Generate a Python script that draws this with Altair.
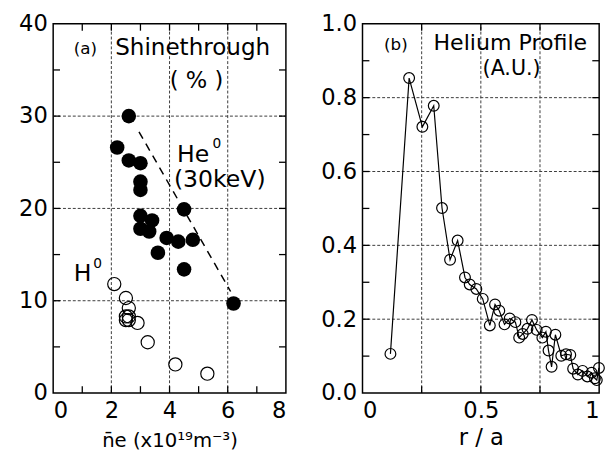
import altair as alt
import pandas as pd

# ---- Panel (a): shinethrough vs density ----
he_ne = [2.6, 2.2, 2.6, 3.0, 3.0, 3.0, 4.5, 3.0, 3.4, 3.0, 3.3, 3.9, 4.3, 4.8, 3.6, 4.5, 6.2]
he_st = [30.0, 26.6, 25.2, 24.9, 22.9, 22.0, 19.9, 19.2, 18.7, 17.8, 17.5, 16.8, 16.4, 16.6, 15.2, 13.4, 9.7]
h_ne = [2.1, 2.5, 2.6, 2.5, 2.6, 2.5, 2.9, 2.6, 3.25, 4.2, 5.3]
h_st = [11.8, 10.3, 9.2, 8.3, 7.9, 7.9, 7.6, 8.3, 5.5, 3.1, 2.1]
fit_ne = [2.95, 6.1]
fit_st = [28.3, 11.0]

# ---- Panel (b): helium profile ----
r_a = [0.118, 0.197, 0.253, 0.301, 0.336, 0.370, 0.402, 0.433, 0.453, 0.481, 0.508,
       0.538, 0.560, 0.578, 0.600, 0.622, 0.646, 0.662, 0.677, 0.697, 0.716, 0.736,
       0.760, 0.775, 0.786, 0.799, 0.815, 0.840, 0.860, 0.878, 0.890, 0.910, 0.930,
       0.950, 0.968, 0.982, 0.990, 0.999]
he_prof = [0.106, 0.853, 0.721, 0.778, 0.501, 0.361, 0.413, 0.313, 0.294, 0.282, 0.255,
           0.183, 0.240, 0.223, 0.186, 0.202, 0.192, 0.150, 0.160, 0.174, 0.198, 0.171,
           0.150, 0.166, 0.115, 0.071, 0.158, 0.101, 0.105, 0.103, 0.066, 0.050, 0.060,
           0.045, 0.055, 0.040, 0.035, 0.068]

# grid and tick positions
grid_x_a = [2, 4, 6]
grid_y_a = [10, 20, 30]
minor_x_a = [1, 2, 3, 4, 5, 6, 7]
minor_y_a = [5, 10, 15, 20, 25, 30, 35]
grid_x_b = [0.25, 0.5, 0.75]
grid_y_b = [0.2, 0.4, 0.6, 0.8]
minor_x_b = [0.25, 0.5, 0.75]
minor_y_b = [0.1, 0.2, 0.3, 0.4, 0.5, 0.6, 0.7, 0.8, 0.9]

FONT = "DejaVu Sans"
W1, W2, H = 237, 241, 376
TL = 7
GRID = dict(color="#3a3a3a", strokeDash=[3, 2], strokeWidth=1)
TICK = dict(color="black", strokeWidth=1.3)


def frame_layers(xs, ys, xdom, ydom, gx, gy, mx, my, w, xaxis, yaxis):
    vx = pd.DataFrame({"g": [v for v in gx for _ in (0, 1)],
                       "p": [ydom[k] for _ in gx for k in (0, 1)]})
    hy = pd.DataFrame({"g": [v for v in gy for _ in (0, 1)],
                       "p": [xdom[k] for _ in gy for k in (0, 1)]})
    mxdf = pd.DataFrame({"v": mx})
    mydf = pd.DataFrame({"v": my})
    return [
        alt.Chart(vx).mark_line(**GRID).encode(
            x=alt.X("g:Q", scale=xs, axis=xaxis), y=alt.Y("p:Q", scale=ys, axis=yaxis), detail="g:N"),
        alt.Chart(hy).mark_line(**GRID).encode(
            y=alt.Y("g:Q", scale=ys), x=alt.X("p:Q", scale=xs), detail="g:N", order="p:Q"),
        alt.Chart(mxdf).mark_rule(**TICK).encode(
            x=alt.X("v:Q", scale=xs), y=alt.value(H), y2=alt.value(H - TL)),
        alt.Chart(mxdf).mark_rule(**TICK).encode(
            x=alt.X("v:Q", scale=xs), y=alt.value(0), y2=alt.value(TL)),
        alt.Chart(mydf).mark_rule(**TICK).encode(
            y=alt.Y("v:Q", scale=ys), x=alt.value(0), x2=alt.value(TL)),
        alt.Chart(mydf).mark_rule(**TICK).encode(
            y=alt.Y("v:Q", scale=ys), x=alt.value(w), x2=alt.value(w - TL)),
    ]


def text_layers(df, xs, ys):
    return [
        alt.Chart(df.iloc[[i]]).mark_text(font=FONT, fontSize=float(df.s[i]), align=df.a[i],
                                          baseline="alphabetic", color="black").encode(
            x=alt.X("x:Q", scale=xs), y=alt.Y("y:Q", scale=ys), text="t:N")
        for i in range(len(df))
    ]


# ---------- Panel (a) ----------
df_he = pd.DataFrame({"ne": he_ne, "st": he_st})
df_h = pd.DataFrame({"ne": h_ne, "st": h_st})
df_fit = pd.DataFrame({"ne": fit_ne, "st": fit_st})

xdom_a, ydom_a = [0, 8], [0, 40]
xs_a = alt.Scale(domain=xdom_a, nice=False)
ys_a = alt.Scale(domain=ydom_a, nice=False)

xaxis_a = alt.Axis(values=[0, 2, 4, 6, 8], grid=False, ticks=False, domain=False,
                   labelFontSize=23, labelPadding=7, title="n̄e (x10¹⁹m⁻³)",
                   titleFontSize=20, titleFontWeight="normal", titlePadding=8)
yaxis_a = alt.Axis(values=[0, 10, 20, 30, 40], grid=False, ticks=False, domain=False,
                   labelFontSize=23, labelPadding=6, title=None)

grid_a = frame_layers(xs_a, ys_a, xdom_a, ydom_a, grid_x_a, grid_y_a, minor_x_a, minor_y_a,
                      W1, xaxis_a, yaxis_a)

he_layer = alt.Chart(df_he).mark_circle(size=220, color="black", opacity=1).encode(
    x=alt.X("ne:Q", scale=xs_a), y=alt.Y("st:Q", scale=ys_a))
h_layer = alt.Chart(df_h).mark_point(shape="circle", filled=False, size=180,
                                     color="black", strokeWidth=1.2, opacity=1).encode(
    x=alt.X("ne:Q", scale=xs_a), y=alt.Y("st:Q", scale=ys_a))
fit_layer = alt.Chart(df_fit).mark_line(color="black", strokeDash=[8, 6], strokeWidth=1.5).encode(
    x=alt.X("ne:Q", scale=xs_a), y=alt.Y("st:Q", scale=ys_a))

lab_a = pd.DataFrame({
    "x": [1.11, 2.13, 4.93, 4.26, 4.15, 0.71],
    "y": [36.7, 36.6, 33.1, 25.0, 22.3, 12.1],
    "t": ["(a)", "Shinethrough", "( % )", "He", "(30keV)", "H"],
    "s": [17, 23.5, 23, 24, 24, 24],
    "a": ["center", "left", "center", "left", "left", "left"],
})
sup_a = pd.DataFrame({"x": [5.48, 1.38], "y": [26.5, 13.6], "t": ["0", "0"]})
sup_layer_a = alt.Chart(sup_a).mark_text(font=FONT, fontSize=14, align="left",
                                         baseline="alphabetic", color="black").encode(
    x=alt.X("x:Q", scale=xs_a), y=alt.Y("y:Q", scale=ys_a), text="t:N")

panel_a = alt.layer(*grid_a, fit_layer, he_layer, h_layer,
                    *text_layers(lab_a, xs_a, ys_a), sup_layer_a).properties(width=W1, height=H)

# ---------- Panel (b) ----------
df_prof = pd.DataFrame({"r": r_a, "n": he_prof})
xdom_b, ydom_b = [0, 1], [0, 1]
xs_b = alt.Scale(domain=xdom_b, nice=False)
ys_b = alt.Scale(domain=ydom_b, nice=False)

xaxis_b = alt.Axis(values=[0, 0.5, 1], grid=False, ticks=False, domain=False,
                   labelExpr="format(datum.value, '~g')",
                   labelFontSize=23, labelPadding=7, title="r / a",
                   titleFontSize=23, titleFontWeight="normal", titlePadding=4)
yaxis_b = alt.Axis(values=[0, 0.2, 0.4, 0.6, 0.8, 1.0], grid=False, ticks=False, domain=False,
                   format=".1f", labelFontSize=23, labelPadding=6, title=None)

grid_b = frame_layers(xs_b, ys_b, xdom_b, ydom_b, grid_x_b, grid_y_b, minor_x_b, minor_y_b,
                      W2, xaxis_b, yaxis_b)

prof_line = alt.Chart(df_prof).mark_line(color="black", strokeWidth=1.2).encode(
    x=alt.X("r:Q", scale=xs_b), y=alt.Y("n:Q", scale=ys_b))
prof_pts = alt.Chart(df_prof).mark_point(shape="circle", filled=False, size=120, color="black",
                                         strokeWidth=1.2, opacity=1).encode(
    x=alt.X("r:Q", scale=xs_b), y=alt.Y("n:Q", scale=ys_b))

lab_b = pd.DataFrame({
    "x": [0.141, 0.30, 0.63],
    "y": [0.93, 0.928, 0.862],
    "t": ["(b)", "Helium Profile", "(A.U.)"],
    "s": [17, 22.5, 21],
    "a": ["center", "left", "center"],
})

panel_b = alt.layer(*grid_b, prof_line, prof_pts,
                    *text_layers(lab_b, xs_b, ys_b)).properties(width=W2, height=H)

chart = alt.hconcat(panel_a, panel_b, spacing=31).properties(
    padding={"left": 9, "top": 0, "right": 0, "bottom": 0}
).configure_view(
    stroke="black", strokeWidth=1.5
).configure_axis(
    labelFont=FONT, titleFont=FONT, labelColor="black", titleColor="black",
)

chart.save("out.html", embed_options={"renderer": "svg", "actions": False})
